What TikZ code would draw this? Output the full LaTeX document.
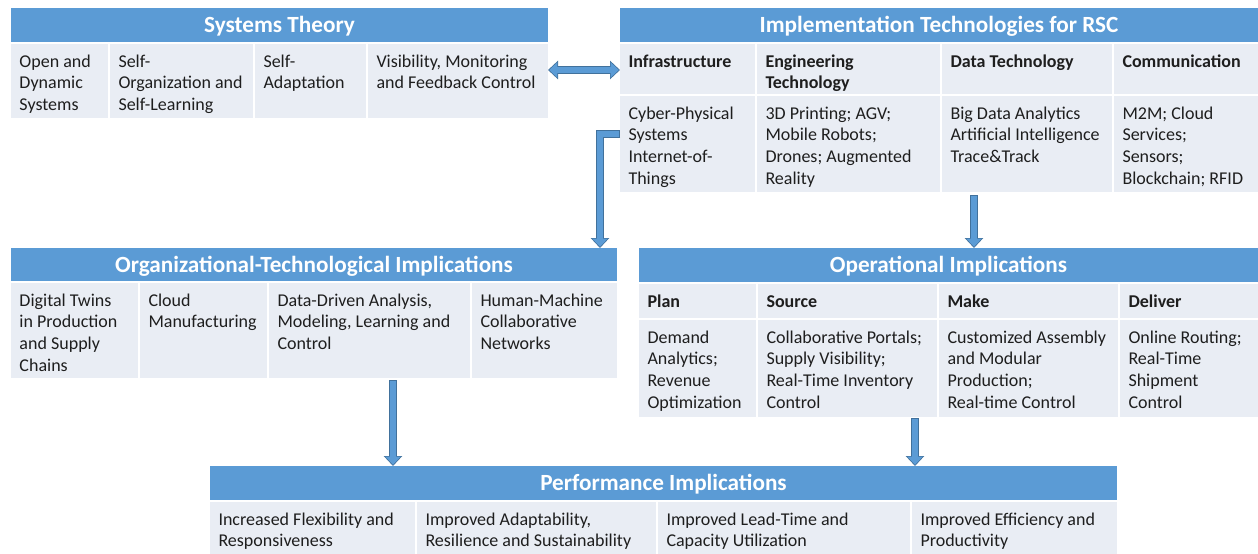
\documentclass[tikz,border=0pt]{standalone}
\usepackage{fontspec}
\setmainfont{Carlito}
\usetikzlibrary{arrows.meta}
\definecolor{hdrblue}{HTML}{5B9BD5}
\definecolor{arrdark}{HTML}{41719C}
\definecolor{cellbg}{HTML}{E9EDF4}
\definecolor{txt}{HTML}{1E1E1E}
\tikzset{
  hdr/.style={fill=hdrblue, text=white, inner sep=0pt, outer sep=0pt,
    font=\fontsize{23.2}{27}\selectfont\bfseries, text height=17pt, text depth=2pt},
  cellrect/.style={fill=cellbg, inner sep=0pt, outer sep=0pt},
  celltxt/.style={text=txt, inner sep=0pt, outer sep=0pt, align=left,
    font=\fontsize{18}{21.6}\selectfont},
  boldtxt/.style={font=\fontsize{18}{21.6}\selectfont\bfseries},
  aout/.style={line width=8pt, draw=arrdark, line join=miter},
  ain/.style={line width=6pt, draw=hdrblue, line join=miter, shorten >=1.2pt, shorten <=1pt},
  tout/.tip={Triangle[width=18pt,length=10pt]},
  tin/.tip={Triangle[width=15pt,length=8.2pt]},
}
\newcommand\hdrbox[6]{%
  \node[hdr, anchor=north west, minimum width={#4-#2}, minimum height={#5-#3}] (#1) at (#2,#3) {#6};}
\newcommand\cellbox[7]{%
  \node[cellrect, anchor=north west, minimum width={#4-#2}, minimum height={#5-#3}] (#1) at (#2,#3) {};
  \node[celltxt, #6, anchor=north west] (#1t) at ({#2+8.5},{#3+9.3}) {\rule{0pt}{14pt}#7};}
\begin{document}
\begin{tikzpicture}[x=1pt, y=-1pt]
\useasboundingbox (0,0) rectangle (1258,554);
\fill[white] (0,0) rectangle (1258,554);

% Systems Theory
\hdrbox{STh}{11}{8}{548}{42}{Systems Theory}
\cellbox{ST1}{11}{44}{108}{118}{}{Open and\\Dynamic\\Systems}
\cellbox{ST2}{110}{44}{253}{118}{}{Self-\\Organization and\\Self-Learning}
\cellbox{ST3}{255}{44}{366}{118}{}{Self-\\Adaptation}
\cellbox{ST4}{368}{44}{548}{118}{}{Visibility, Monitoring\\and Feedback Control}

% Implementation Technologies
\hdrbox{ITh}{620}{8}{1258}{42}{Implementation Technologies for RSC}
\cellbox{IT1a}{620}{44}{755}{94}{boldtxt}{Infrastructure}
\cellbox{IT1b}{757}{44}{940}{94}{boldtxt}{Engineering\\Technology}
\cellbox{IT1c}{942}{44}{1112}{94}{boldtxt}{Data Technology}
\cellbox{IT1d}{1114}{44}{1258}{94}{boldtxt}{Communication}
\cellbox{IT2a}{620}{96}{755}{192}{}{Cyber-Physical\\Systems\\Internet-of-\\Things}
\cellbox{IT2b}{757}{96}{940}{192}{}{3D Printing; AGV;\\Mobile Robots;\\Drones; Augmented\\Reality}
\cellbox{IT2c}{942}{96}{1112}{192}{}{Big Data Analytics\\Artificial Intelligence\\Trace\&Track}
\cellbox{IT2d}{1114}{96}{1258}{192}{}{M2M; Cloud\\Services;\\Sensors;\\Blockchain; RFID}

% Organizational-Technological
\hdrbox{OTh}{11}{248}{617}{281}{Organizational-Technological Implications}
\cellbox{OT1}{11}{283}{138}{378}{}{Digital Twins\\in Production\\and Supply\\Chains}
\cellbox{OT2}{140}{283}{267}{378}{}{Cloud\\Manufacturing}
\cellbox{OT3}{269}{283}{470}{378}{}{Data-Driven Analysis,\\Modeling, Learning and\\Control}
\cellbox{OT4}{472}{283}{617}{378}{}{Human-Machine\\Collaborative\\Networks}

% Operational
\hdrbox{OPh}{639}{248}{1258}{282}{Operational Implications}
\cellbox{OP1a}{639}{284}{756}{318}{boldtxt}{Plan}
\cellbox{OP1b}{758}{284}{937}{318}{boldtxt}{Source}
\cellbox{OP1c}{939}{284}{1118}{318}{boldtxt}{Make}
\cellbox{OP1d}{1120}{284}{1258}{318}{boldtxt}{Deliver}
\cellbox{OP2a}{639}{320}{756}{417}{}{Demand\\Analytics;\\Revenue\\Optimization}
\cellbox{OP2b}{758}{320}{937}{417}{}{Collaborative Portals;\\Supply Visibility;\\Real-Time Inventory\\Control}
\cellbox{OP2c}{939}{320}{1118}{417}{}{Customized Assembly\\and Modular\\Production;\\Real-time Control}
\cellbox{OP2d}{1120}{320}{1258}{417}{}{Online Routing;\\Real-Time\\Shipment\\Control}

% Performance
\hdrbox{PTh}{210}{466}{1117}{500}{Performance Implications}
\cellbox{PT1}{210}{502}{415}{554}{}{Increased Flexibility and\\Responsiveness}
\cellbox{PT2}{417}{502}{656}{554}{}{Improved Adaptability,\\Resilience and Sustainability}
\cellbox{PT3}{658}{502}{910}{554}{}{Improved Lead-Time and\\Capacity Utilization}
\cellbox{PT4}{912}{502}{1117}{554}{}{Improved Efficiency and\\Productivity}

% helper coordinates
\coordinate (yda) at (0,70);
\coordinate (elb) at (600,134);
\coordinate (xa) at (974,0);
\coordinate (xb) at (393,0);
\coordinate (xc) at (915,0);

% arrows
\draw[aout, tout-tout] (ST4.east |- yda) -- (IT1a.west |- yda);
\draw[ain, tin-tin, shorten <=1.2pt] (ST4.east |- yda) -- (IT1a.west |- yda);

\draw[aout, -tout] (IT2a.west |- elb) -| (OTh.north -| elb);
\draw[ain, -tin] (IT2a.west |- elb) -| (OTh.north -| elb);

\draw[aout, -tout] ([yshift=-3pt]IT2c.south -| xa) -- (OPh.north -| xa);
\draw[ain, -tin] ([yshift=-3pt]IT2c.south -| xa) -- (OPh.north -| xa);

\draw[aout, -tout] ([yshift=-2pt]OT3.south -| xb) -- (PTh.north -| xb);
\draw[ain, -tin] ([yshift=-2pt]OT3.south -| xb) -- (PTh.north -| xb);

\draw[aout, -tout] ([yshift=-1pt]OP2b.south -| xc) -- (PTh.north -| xc);
\draw[ain, -tin] ([yshift=-1pt]OP2b.south -| xc) -- (PTh.north -| xc);
\end{tikzpicture}
\end{document}
